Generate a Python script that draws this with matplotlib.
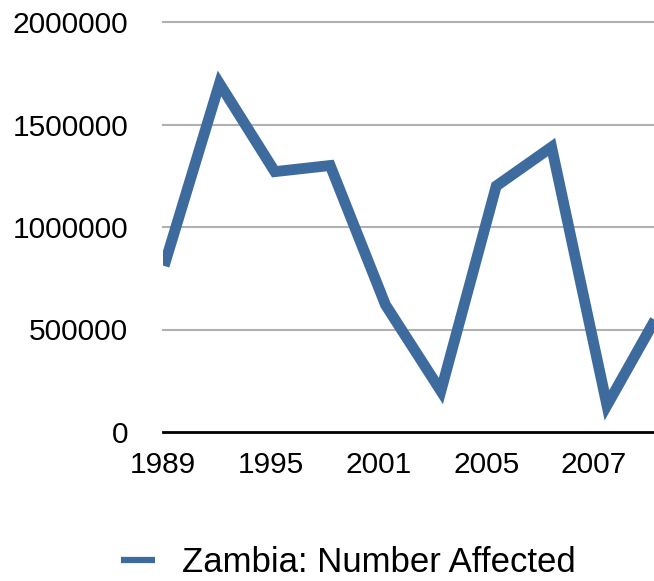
import matplotlib
matplotlib.use("Agg")
import matplotlib.pyplot as plt

tick_labels = ["1989", "", "1995", "", "2001", "", "2005", "", "2007", ""]
values = [810000, 1700000, 1270000, 1300000, 620000, 200000, 1200000, 1390000, 130000, 610000]
series_name = "Zambia: Number Affected"
yticks = [0, 500000, 1000000, 1500000, 2000000]

plt.rcParams['font.family'] = ['Liberation Sans', 'DejaVu Sans']

fig = plt.figure(figsize=(6.54, 5.81), dpi=100)
ax = fig.add_axes([163/654, (581-432)/581, 1 - 163/654, (432-22)/581])

x = list(range(len(values)))
ax.plot(x, values, color='#3e6b9d', linewidth=7.8, solid_joinstyle='miter',
        solid_capstyle='butt', label=series_name, zorder=3)

ax.set_xlim(0, 8.85)
ax.set_ylim(0, 2000000)
ax.set_yticks(yticks)
ax.set_yticklabels([str(v) for v in yticks], fontsize=21.5)
# category labels sit slightly tighter than the data points in the original
ax.set_xticks([i * 0.973 - 0.02 for i in x])
ax.set_xticklabels(tick_labels, fontsize=21.5)
ax.tick_params(axis='both', length=0)
ax.tick_params(axis='y', pad=25)
ax.tick_params(axis='x', pad=14)

for v in yticks[1:]:
    ax.axhline(v, color='#b0b0b0', linewidth=1.5, zorder=1, clip_on=False)

for s in ['top', 'right', 'left']:
    ax.spines[s].set_visible(False)
ax.spines['bottom'].set_color('black')
ax.spines['bottom'].set_linewidth(2)

leg = fig.legend(loc='center', bbox_to_anchor=(348/654, 1 - 563/581), frameon=False,
                 fontsize=25, handlelength=1.0, handletextpad=0.75)
for h in leg.legend_handles:
    h.set_linewidth(4.5)

fig.savefig("out.png", dpi=100)
